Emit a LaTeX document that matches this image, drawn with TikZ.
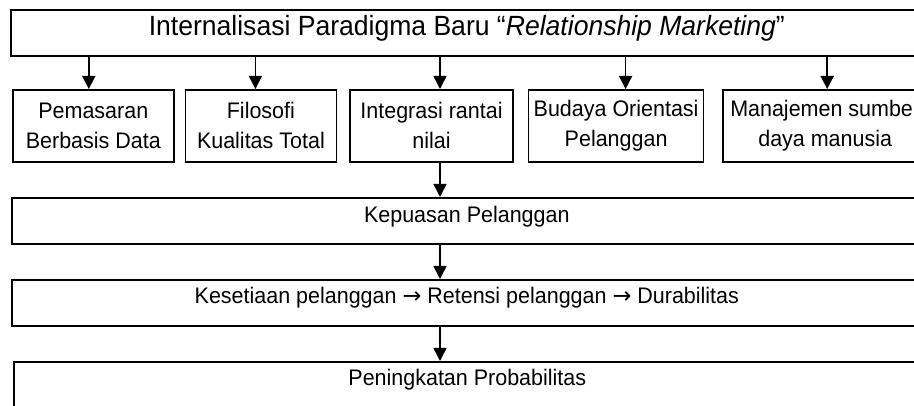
\documentclass[tikz,border=0pt]{standalone}
\usepackage{fontspec}
\setmainfont[FakeStretch = 0.955]{Liberation Sans}
\newfontfamily\arrowfont{DejaVu Sans}
\newcommand{\nextstep}{{\arrowfont →}}
\usetikzlibrary{arrows.meta, positioning}

\begin{document}
\begin{tikzpicture}[%
    x = 1pt, y = -1pt,
    node distance = 10pt,
    every node/.style = {font = \fontsize{22.5}{30}\selectfont},
    lane/.style = {%
      draw,
      line width = 1.6pt,
      inner xsep = 0pt,
      inner ysep = 0pt,
      anchor = north west },
    item/.style = {%
      draw,
      line width = 1.6pt,
      align = center,
      inner xsep = 2pt,
      minimum height = 72pt },
    flow/.style = {%
      line width = 1.6pt,
      -{Triangle[length = 13pt, width = 13pt]} }
  ]

\path[use as bounding box, clip] (0,0) rectangle (914,406);

% top box
\node[lane, minimum width = 912pt, text height = 26pt, text depth = 20pt,
  font = \fontsize{27.8}{32}\selectfont] (para) at (10,9)
  {Internalisasi Paradigma Baru “\textit{Relationship Marketing}”};

% five pillars
\node[item, minimum width = 161pt, anchor = north west] (data) at (12,89) {Pemasaran\\Berbasis Data};
\node[item, minimum width = 151pt] (tqm) [right = 10pt of data] {Filosofi\\Kualitas Total};
\node[item, minimum width = 163pt] (chain) [right = 12pt of tqm] {Integrasi rantai\\nilai};
\node[item, minimum width = 175pt] (culture) [right = 14pt of chain] {Budaya Orientasi\\Pelanggan};
\node[item, minimum width = 204pt] (hrm) [right = 18pt of culture] {Manajemen sumber\\daya manusia};

% outcome boxes
\node[lane, minimum width = 910pt, text height = 25pt, text depth = 21pt] (puas) at (11,197) {Kepuasan Pelanggan};
\node[lane, minimum width = 910pt, text height = 24pt, text depth = 22pt] (setia) at (11,279)
  {Kesetiaan pelanggan \nextstep{} Retensi pelanggan \nextstep{} Durabilitas};
\node[lane, minimum width = 907pt, text height = 24pt, text depth = 40pt] (laba) at (13,361) {Peningkatan Probabilitas};

% arrows from the top box
\coordinate (d1) at ([xshift = -4.5pt]data.north);
\coordinate (d2) at ([xshift = -5.5pt]tqm.north);
\coordinate (d3) at ([xshift = 8.5pt]chain.north);
\coordinate (d4) at ([xshift = 9.5pt]culture.north);
\coordinate (d5) at ([xshift = 2pt]hrm.north);
\draw[flow] (d1 |- para.south) -- (d1);
\draw[flow] (d2 |- para.south) -- (d2);
\draw[flow] (d3 |- para.south) -- (d3);
\draw[flow] (d4 |- para.south) -- (d4);
\draw[flow] (d5 |- para.south) -- (d5);

% main line down
\coordinate (spine) at ([xshift = 8.5pt]chain.south);
\draw[flow] (spine) -- (spine |- puas.north);
\draw[flow] (puas.south -| spine) -- (setia.north -| spine);
\draw[flow] (setia.south -| spine) -- (laba.north -| spine);

\end{tikzpicture}
\end{document}
